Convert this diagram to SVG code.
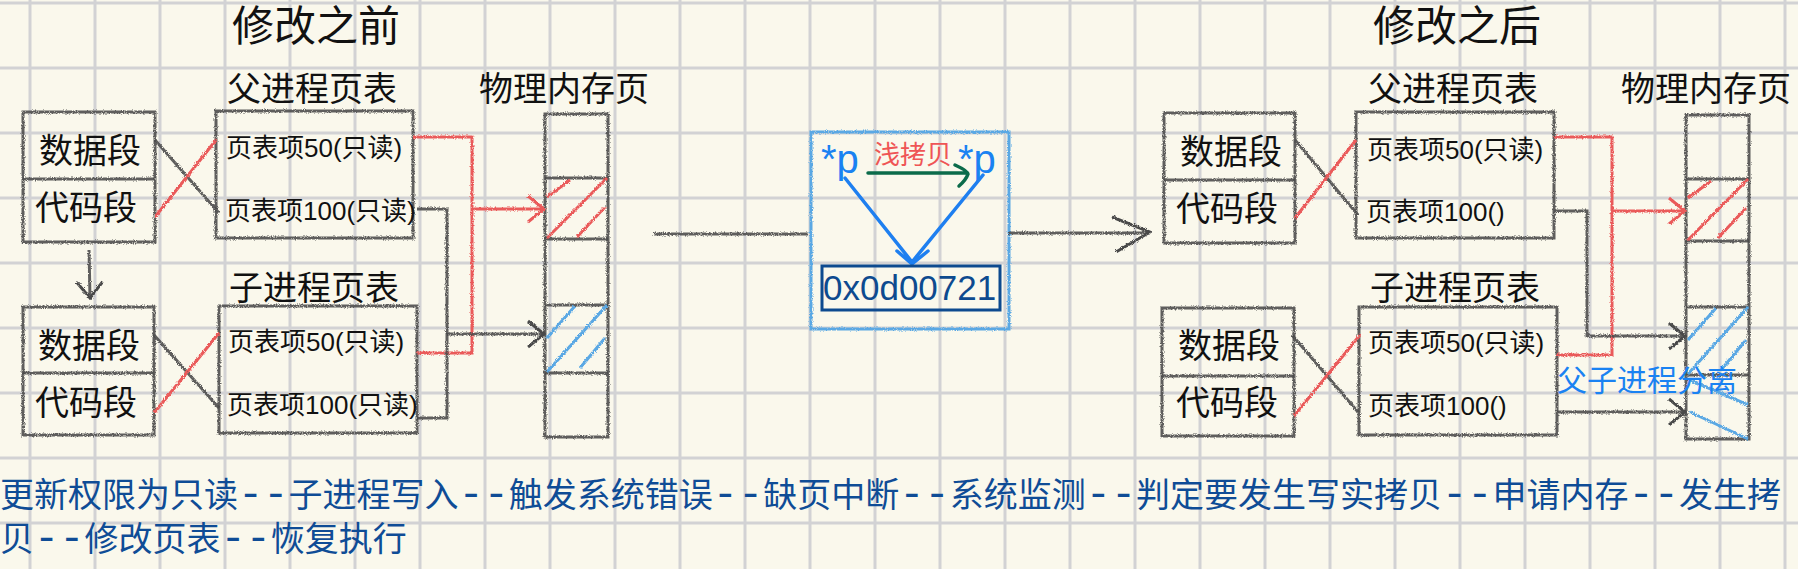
<svg xmlns="http://www.w3.org/2000/svg" width="1798" height="569" viewBox="0 0 1798 569">
<defs>
<style>
.bg{fill:#faf8ec}
.grid{stroke:#d2d2d4;stroke-width:3;fill:none}
.sk{fill:none;stroke:#4a4a4a;stroke-width:3;stroke-opacity:0.88;filter:url(#pencil)}
.skr{fill:none;stroke:#ea5a5a;stroke-width:3;filter:url(#pencil)}
.skb{fill:none;stroke:#5aa8e4;stroke-width:3;filter:url(#pencil)}
.t{font-family:"Liberation Sans","Noto Sans CJK SC",sans-serif;fill:#111}
.cjk{font-family:"Noto Sans CJK SC",sans-serif;fill:#111}
.h1{font-size:42px;text-anchor:middle}
.h2{font-size:34px;text-anchor:middle}
.seg{font-size:34px}
.pt{font-size:26px}
.blue{fill:#1a82f2}
.note{font-family:"Noto Sans CJK SC",sans-serif;font-size:34px;fill:#0f4c96}
.dash{font-family:"Liberation Mono",monospace;font-size:42px}
</style>
<filter id="pencil" filterUnits="userSpaceOnUse" x="0" y="0" width="1798" height="569">
<feTurbulence type="fractalNoise" baseFrequency="0.9" numOctaves="2" seed="4" result="n"/>
<feDisplacementMap in="SourceGraphic" in2="n" scale="3.5" xChannelSelector="R" yChannelSelector="G"/>
</filter>
<marker id="arrG" viewBox="0 0 20 30" refX="18" refY="15" markerWidth="20" markerHeight="30" markerUnits="userSpaceOnUse" orient="auto">
<path d="M2,2 L18,15 L2,28" fill="none" stroke="#4a4a4a" stroke-width="3"/>
</marker>
<marker id="arrR" viewBox="0 0 20 30" refX="18" refY="15" markerWidth="20" markerHeight="30" markerUnits="userSpaceOnUse" orient="auto">
<path d="M2,2 L18,15 L2,28" fill="none" stroke="#ea5a5a" stroke-width="3"/>
</marker>
<marker id="arrBig" viewBox="0 0 42 42" refX="40" refY="21" markerWidth="42" markerHeight="42" markerUnits="userSpaceOnUse" orient="auto">
<path d="M2,5 L40,20 L6,40" fill="none" stroke="#4a4a4a" stroke-width="3"/>
</marker>
</defs>

<rect class="bg" x="0" y="0" width="1798" height="569"/>
<path class="grid" d="M30 0V569M95 0V569M160 0V569M225 0V569M290 0V569M355 0V569M420 0V569M485 0V569M550 0V569M615 0V569M680 0V569M745 0V569M810 0V569M875 0V569M940 0V569M1005 0V569M1070 0V569M1135 0V569M1200 0V569M1265 0V569M1330 0V569M1395 0V569M1460 0V569M1525 0V569M1590 0V569M1655 0V569M1720 0V569M1785 0V569M0 3H1798M0 68H1798M0 133H1798M0 198H1798M0 263H1798M0 328H1798M0 393H1798M0 458H1798M0 523H1798"/>

<g id="title-before"><text class="cjk h1" x="316" y="41">修改之前</text></g>
<g id="title-after"><text class="cjk h1" x="1457" y="41">修改之后</text></g>

<!-- BEFORE -->
<g id="parent-seg-before">
<rect class="sk" x="23" y="112" width="132" height="130"/>
<path class="sk" d="M23 179H155"/>
<text class="cjk seg" x="39" y="163">数据段</text>
<text class="cjk seg" x="35" y="220">代码段</text>
</g>
<g id="parent-pt-before">
<text class="cjk h2" x="312" y="101">父进程页表</text>
<rect class="sk" x="216" y="111" width="197" height="127"/>
<text class="t pt" x="226" y="157">页表项50(只读)</text>
<text class="t pt" x="225" y="220">页表项100(只读)</text>
</g>
<g id="child-seg-before">
<rect class="sk" x="23" y="307" width="131" height="128"/>
<path class="sk" d="M23 373H154"/>
<text class="cjk seg" x="38" y="358">数据段</text>
<text class="cjk seg" x="35" y="415">代码段</text>
</g>
<g id="child-pt-before">
<text class="cjk h2" x="314" y="300">子进程页表</text>
<rect class="sk" x="219" y="306" width="198" height="127"/>
<text class="t pt" x="228" y="351">页表项50(只读)</text>
<text class="t pt" x="227" y="414">页表项100(只读)</text>
</g>
<g id="phys-before">
<text class="cjk h2" x="564" y="101">物理内存页</text>
<rect class="sk" x="545" y="114" width="63" height="323"/>
<path class="sk" d="M545 178H608M545 239H608M545 305H608M545 373H608"/>
<path class="skr" d="M547 197L570 180M547 238L607 178M577 237L605 207"/>
<path class="skb" d="M547 338L575 306M547 372L607 305M580 368L605 338"/>
</g>

<!-- MIDDLE -->
<g id="copy-box">
<rect class="skb" x="811" y="132" width="198" height="197"/>
<text class="t blue" x="821" y="173" font-size="40">*p</text>
<text class="t blue" x="958" y="173" font-size="40">*p</text>
<text class="cjk" x="874" y="164" font-size="26" style="fill:#ef5555">浅拷贝</text>
<path d="M868 173H966M955 165Q968 171 968 174Q966 180 959 186" fill="none" stroke="#0b6b4a" stroke-width="3.5" stroke-linecap="round"/>
<path d="M845 178L912 262M983 175L912 262M897 251L912 264L928 251" fill="none" stroke="#1e7ff0" stroke-width="3.5" stroke-linecap="round" stroke-linejoin="round"/>
<rect x="822" y="266" width="178" height="44" fill="none" stroke="#0d4a8f" stroke-width="3"/>
<text class="t" x="823" y="300" font-size="35" style="fill:#0d4a8f">0x0d00721</text>
</g>

<!-- AFTER -->
<g id="parent-seg-after">
<rect class="sk" x="1164" y="113" width="131" height="130"/>
<path class="sk" d="M1164 180H1295"/>
<text class="cjk seg" x="1180" y="164">数据段</text>
<text class="cjk seg" x="1176" y="221">代码段</text>
</g>
<g id="parent-pt-after">
<text class="cjk h2" x="1453" y="101">父进程页表</text>
<rect class="sk" x="1356" y="112" width="198" height="126"/>
<text class="t pt" x="1367" y="159">页表项50(只读)</text>
<text class="t pt" x="1366" y="221">页表项100()</text>
</g>
<g id="child-seg-after">
<rect class="sk" x="1162" y="308" width="132" height="128"/>
<path class="sk" d="M1162 376H1294"/>
<text class="cjk seg" x="1178" y="358">数据段</text>
<text class="cjk seg" x="1176" y="415">代码段</text>
</g>
<g id="child-pt-after">
<text class="cjk h2" x="1455" y="300">子进程页表</text>
<rect class="sk" x="1359" y="307" width="198" height="128"/>
<text class="t pt" x="1368" y="352">页表项50(只读)</text>
<text class="t pt" x="1368" y="415">页表项100()</text>
</g>
<g id="phys-after">
<text class="cjk h2" x="1706" y="101">物理内存页</text>
<rect class="sk" x="1686" y="115" width="63" height="324"/>
<path class="sk" d="M1686 179H1749M1686 241H1749M1686 307H1749M1686 375H1749"/>
<path class="skr" d="M1688 198L1711 181M1688 240L1748 179M1718 238L1746 208"/>
<path class="skb" d="M1688 340L1716 308M1688 374L1748 307M1721 370L1746 340M1690 380L1748 405M1690 412L1748 439"/>
</g>
<g id="label-split"><text class="cjk" x="1557" y="391" font-size="30" style="fill:#1a82f2">父子进程分离</text></g>

<!-- CONNECTORS -->
<g id="connectors">
<path class="sk" d="M155 140L219 213M154 335L219 408M1295 140L1358 215M1292 335L1358 412"/>
<path class="skr" d="M155 217L216 140M154 413L219 333M1295 218L1356 140M1294 416L1360 335"/>
<path class="sk" d="M89 250L90 298" marker-end="url(#arrG)"/>
<path class="skr" d="M413 137H472V353H417"/>
<path class="skr" d="M472 209H544" marker-end="url(#arrR)"/>
<path class="sk" d="M417 209H447V418H417"/>
<path class="sk" d="M447 334H544" marker-end="url(#arrG)"/>
<path class="sk" d="M653 234H808"/>
<path class="sk" d="M1009 233H1150" marker-end="url(#arrBig)"/>
<path class="skr" d="M1554 137H1612V355H1557"/>
<path class="skr" d="M1612 211H1685" marker-end="url(#arrR)"/>
<path class="sk" d="M1554 211H1587V336H1685" marker-end="url(#arrG)"/>
<path class="sk" d="M1557 412H1685" marker-end="url(#arrG)"/>
</g>

<g id="note">
<text class="note" x="0" y="507">更新权限为只读<tspan class="dash">--</tspan>子进程写入<tspan class="dash">--</tspan>触发系统错误<tspan class="dash">--</tspan>缺页中断<tspan class="dash">--</tspan>系统监测<tspan class="dash">--</tspan>判定要发生写实拷贝<tspan class="dash">--</tspan>申请内存<tspan class="dash">--</tspan>发生拷</text>
<text class="note" x="0" y="551">贝<tspan class="dash">--</tspan>修改页表<tspan class="dash">--</tspan>恢复执行</text>
</g>
</svg>
